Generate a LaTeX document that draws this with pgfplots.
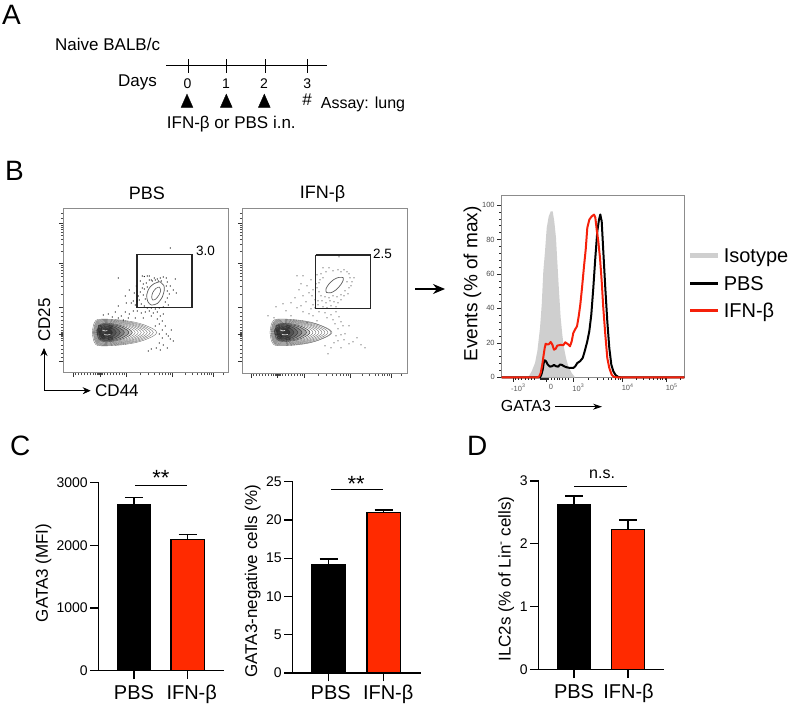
\documentclass[border=0pt]{standalone}
\usepackage{fontspec}
\setmainfont{Liberation Sans}
\usepackage{pgfplots}
\pgfplotsset{compat=1.18}
\usetikzlibrary{arrows.meta}
\newcommand\fs[1]{\fontsize{#1}{#1}\selectfont}
\definecolor{barred}{HTML}{FF2A00}
\definecolor{histred}{HTML}{F5200A}
\definecolor{isogray}{HTML}{CFCFCF}
\definecolor{framegray}{HTML}{8C8C8C}
\newcommand\ct[1]{\addplot[smooth,tension=.6,draw=black!60,line width=.35pt] coordinates {#1};}
\newcommand\cf[1]{\addplot[smooth,tension=.6,fill=black,fill opacity=.2,draw=black!80,line width=.4pt] coordinates {#1};}
\newcommand\blobinner{%
\ct{(30,124.5)(32,115.3)(38,111.7)(60,113)(78,117.1)(90,124.5)(78,131.9)(60,136)(38,137.3)(32,133.7)(30,124.5)}
\ct{(30.5,124.5)(32.5,115.6)(38.5,112.2)(58.8,113.4)(75.7,117.4)(87,124.5)(75.7,131.6)(58.8,135.6)(38.5,136.8)(32.5,133.4)(30.5,124.5)}
\ct{(31,124.5)(33,116)(39,112.7)(57.5,113.9)(73.4,117.7)(84,124.5)(73.4,131.3)(57.5,135.1)(39,136.3)(33,133)(31,124.5)}
\ct{(31.5,124.5)(33.5,116.4)(39.5,113.2)(56.3,114.3)(71.1,117.9)(81,124.5)(71.1,131.1)(56.3,134.7)(39.5,135.8)(33.5,132.6)(31.5,124.5)}
\ct{(32,124.5)(34,116.7)(40,113.7)(55,114.8)(68.8,118.2)(78,124.5)(68.8,130.8)(55,134.2)(40,135.3)(34,132.3)(32,124.5)}
\ct{(32.5,124.5)(34.5,117.1)(40.5,114.2)(53.8,115.2)(66.5,118.5)(75,124.5)(66.5,130.5)(53.8,133.8)(40.5,134.8)(34.5,131.9)(32.5,124.5)}
\ct{(33,124.5)(35,117.4)(41,114.7)(52.5,115.7)(64.2,118.8)(72,124.5)(64.2,130.2)(52.5,133.3)(41,134.3)(35,131.6)(33,124.5)}
\cf{(33.5,124.5)(35.5,117.8)(41.5,115.2)(51.3,116.1)(61.9,119.1)(69,124.5)(61.9,129.9)(51.3,132.9)(41.5,133.8)(35.5,131.2)(33.5,124.5)}
\cf{(34,124.5)(36,118.2)(42,115.7)(49.8,116.6)(59.2,119.4)(65.5,124.5)(59.2,129.6)(49.8,132.4)(42,133.3)(36,130.8)(34,124.5)}
\cf{(35,124.5)(37,118.6)(42,116.3)(48,117.1)(55.8,119.7)(61,124.5)(55.8,129.3)(48,131.9)(42,132.7)(37,130.4)(35,124.5)}
\cf{(36,124.5)(38,119.1)(42,117)(46.5,117.7)(52.8,120.1)(57,124.5)(52.8,128.9)(46.5,131.3)(42,132)(38,129.9)(36,124.5)}
\cf{(37,124.5)(38.5,119.8)(42,118)(45,118.6)(49.8,120.7)(53,124.5)(49.8,128.3)(45,130.4)(42,131)(38.5,129.2)(37,124.5)}
\cf{(38,124.5)(39.5,120.9)(42,119.5)(43.5,120)(46.8,121.6)(49,124.5)(46.8,127.4)(43.5,129)(42,129.5)(39.5,128.1)(38,124.5)}
\cf{(35,117.5)(37.5,117)(38.5,120)(38,124)(36,124.5)(35,121)(35,117.5)}
\cf{(33.5,122)(36,120)(37,126)(34.5,127)(33.5,122)}
\cf{(42,121)(47,122)(49,125)(45,128)(42,126)(42,121)}
\cf{(36,126)(40,126)(41,130)(37,131)(36,126)}
\cf{(46,117.5)(49,118)(48,121)(45.5,120)(46,117.5)}
\cf{(45,129)(49,129)(48.5,132)(45,131.5)(45,129)}
\addplot[white,line width=.7pt,opacity=.8] coordinates {(39,122)(42,123)(44,122.5)};
\addplot[white,line width=.7pt,opacity=.8] coordinates {(41,126.5)(44,127)(47,126.5)};
}
\pgfplotsset{
 flow/.style={scale only axis,clip=false,y dir=reverse,
  axis line style={framegray,line width=.9pt},
  tick align=outside,xtick pos=lower,ytick pos=left,
  xticklabels={},yticklabels={},
  xtick={10,36.7,63.4,109.4,150},
  minor xtick={12,15,18,21,24,27,30,32,34,35,36,37,38,39,41,44,47,50,53,56,59,61,77.2,85.3,91,95.5,99.1,102.1,104.8,107.1,121.6,128.7,133.8,137.7,141,143.7,146,148,160},
  ytick={15.3,55.3,99.3,126,153.7},
  minor ytick={5,10,17.1,19.2,21.5,24.2,27.4,31.3,36.3,43.3,57.1,59.4,62,65,68.5,72.8,78.3,86,104,108,112,116,119,122,124,125,127,128,130,132,137,141,145,149},
  major tick length=4.5pt,minor tick length=2.5pt,
  every tick/.style={black!80,line width=.6pt},
  every minor tick/.style={black!70,line width=.5pt},
 },
 dots/.style={only marks,mark=*,mark size=.3pt,mark options={draw=none,fill=black!50}},
 gate/.style={black!85,line width=1.1pt},
 bars/.style={scale only axis,clip=false,axis lines*=left,ybar,bar shift=0pt,bar width=33.5pt,
  axis line style={line width=1.1pt},
  every tick/.style={black,line width=1.1pt},
  tick align=outside,major tick length=8.5pt,
  xtick={0,1},
  /pgf/number format/assume math mode=true,
  /pgf/number format/1000 sep={},
  yticklabel style={font=\fs{14},xshift=1pt},
  xticklabel style={font=\fs{20},text height=15pt,text depth=4pt,yshift=-2pt},
  ylabel style={font=\fs{17},anchor=base},
  error bars/y dir=plus,error bars/y explicit,
 },
 blackbar/.style={fill=black,draw=black,line width=1.3pt,error bars/error bar style={line width=1.2pt,black},error bars/error mark options={rotate=90,mark size=9pt,line width=1.2pt,black}},
 redbar/.style={fill=barred,draw=black,line width=1.3pt,error bars/error bar style={line width=1.2pt,black},error bars/error mark options={rotate=90,mark size=9pt,line width=1.2pt,black}},
 brack/.style={ybar=0pt,sharp plot,black,line width=1pt,forget plot},
}
\begin{document}
\begin{tikzpicture}
\path[use as bounding box] (0,0) rectangle (795pt,709pt);
% canvas axis in reference pixels: panel letters, timeline, arrows
\begin{axis}[at={(0pt,0pt)},anchor=south west,scale only axis,width=795pt,height=709pt,
  xmin=0,xmax=795,ymin=0,ymax=709,y dir=reverse,hide axis,clip=false]
\node[anchor=base west,inner sep=0,font=\fs{28}] at (axis cs:2,25) {A};
\node[anchor=base west,inner sep=0,font=\fs{28}] at (axis cs:5,181) {B};
\node[anchor=base west,inner sep=0,font=\fs{28}] at (axis cs:10,455.5) {C};
\node[anchor=base west,inner sep=0,font=\fs{28}] at (axis cs:467,455.5) {D};
\node[anchor=base west,inner sep=0,font=\fs{17}] at (axis cs:55,50.7) {Naive BALB/c};
\node[anchor=base west,inner sep=0,font=\fs{17}] at (axis cs:118,86.7) {Days};
\node[anchor=base west,inner sep=0,font=\fs{17}] at (axis cs:166.7,128.3) {IFN-β or PBS i.n.};
\node[anchor=base west,inner sep=0,font=\fs{16}] at (axis cs:320.7,108.3) {Assay: lung};
\node[anchor=base,inner sep=0,font=\fs{17}] at (axis cs:307,105.3) {\#};
\node[anchor=base,inner sep=0,font=\fs{14}] at (axis cs:187.5,88.3) {0};
\node[anchor=base,inner sep=0,font=\fs{14}] at (axis cs:226,88.3) {1};
\node[anchor=base,inner sep=0,font=\fs{14}] at (axis cs:264,88.3) {2};
\node[anchor=base,inner sep=0,font=\fs{14}] at (axis cs:307.3,88.3) {3};
\addplot[black,line width=1pt] coordinates {(166,66)(327.3,66)};
\addplot[black,line width=1pt] coordinates {(188.3,59.3)(188.3,72.7)};
\addplot[black,line width=1pt] coordinates {(226.7,59.3)(226.7,72.7)};
\addplot[black,line width=1pt] coordinates {(265.7,59.3)(265.7,72.7)};
\addplot[black,line width=1pt] coordinates {(307,59.3)(307,72.7)};
\addplot[only marks,mark=triangle*,mark size=6.8pt,mark options={fill=black,draw=none,yscale=1.3}] coordinates {(187,103)(226.3,103)(264.3,103)};
% arrows of panel B
\addplot[black,line width=.8pt,-{Stealth[length=8pt,width=7pt]}] coordinates {(44,390.7)(44,348)};
\addplot[black,line width=.8pt,-{Stealth[length=8pt,width=7pt]}] coordinates {(44,390.7)(90.7,390.7)};
\addplot[black,line width=1.1pt,-{Stealth[length=12pt,width=10pt]}] coordinates {(415,289)(445,289)};
\addplot[black,line width=.8pt,-{Stealth[length=9pt,width=6pt]}] coordinates {(555,406.7)(602,406.7)};
\end{axis}
% PBS flow plot
\begin{axis}[flow,at={(63.3pt,336.3pt)},anchor=south west,width=165.4pt,height=164.7pt,
  xmin=0,xmax=165.4,ymin=0,ymax=164.7,
  title={PBS},title style={font=\fs{18},at={(axis description cs:0.506,1.0486)},anchor=base,inner sep=0,yshift=-6pt},
  xlabel={CD44},xlabel style={font=\fs{17},at={(axis description cs:.1917,-.1415)},anchor=base west,inner sep=0},
  ylabel={CD25},ylabel style={font=\fs{17},at={(axis description cs:-.0804,.32)},anchor=base,inner sep=0}]
\ct{(29,124.5)(31,114.9)(37,111.2)(61.3,112.5)(80.6,116.8)(93.5,124.5)(80.6,132.2)(61.3,136.5)(37,137.8)(31,134.1)(29,124.5)}
\blobinner
\addplot[dots] coordinates {(77,73)(79,68)(81,68.5)(84,68)(86,68)(88,72)(91,70)(94,71)(97,70)(100,69)(103,70)(104,74)(112,71)(107,78)(110,82)(113,85)(106,86)(104,90)(102,94)(105,97)(100,99)(96,100)(92,101)(88,100)(84,100)(81,98)(78,96)(76,92)(75,88)(77,84)(79,80)(80,76)(83,75)(86,72)(89,73)(92,72)(95,73)(98,73)(103,78)(104,83)(82,91)(80,87)(81,81)(84,79)(74,93)(72,97)(70,93)(71,85)(73,78)(66,82)(62,88)(68,95)(107,40)(55,70)(63,95)(62,104)(66,106)(70,103)(74,103)(78,105)(82,104)(86,103)(90,105)(94,104)(97,108)(100,106)(52,104)(55,98)(58,108)(65,110)(72,110)(80,110)(88,108)(94,111)(99,113)(102,118)(96,116)(99,122)(103,126)(99,130)(96,135)(100,137)(105,128)(108,122)(93,140)(88,141)(85,143)(107,131)(110,133)(97,142)(104,140)(49,109)(45,106)(60,112)(40,107)(55,110)(92,118)(96,126)};
\addplot[smooth,black!65,line width=.7pt] coordinates {(96.7,73.7)(100.5,77.5)(101,82)(99,89)(94,95.5)(88,97)(84.5,93.5)(83.4,87)(86,80)(91,75.5)(96.7,73.7)};
\addplot[smooth,black!65,line width=.6pt] coordinates {(96,79)(97.4,82)(96,86.5)(92.5,91)(89.5,92)(88.4,89)(89.5,84.5)(92.5,80.5)(96,79)};
\addplot[gate] coordinates {(73.7,46.3)(128.7,46.3)(128.7,99.3)(73.7,99.3)(73.7,46.3)};
\node[anchor=base west,inner sep=0,font=\fs{13.5}] at (axis cs:132.7,48) {3.0};
\end{axis}
% IFN flow plot
\begin{axis}[flow,at={(242.3pt,335.7pt)},anchor=south west,width=165pt,height=164.6pt,
  xmin=1.3,xmax=166.3,ymin=.8,ymax=165.4,
  title={IFN-β},title style={font=\fs{18},at={(axis description cs:.487,1.0644)},anchor=base,inner sep=0,yshift=-6pt}]
\ct{(29,124.5)(31,114.9)(37,111.2)(60,112.5)(78,116.8)(91,124.5)(78,132.2)(60,136.5)(37,137.8)(31,134.1)(29,124.5)}
\blobinner
\addplot[dots] coordinates {(98,49)(82,60)(88,60)(85,64)(92,63)(97,62)(100,64)(103,62)(106,64)(108,66)(109,70)(111,74)(110,78)(113,70)(106,74)(108,80)(104,83)(107,86)(103,88)(100,87)(96,89)(92,88)(88,90)(84,89)(80,88)(78,84)(76,80)(75,76)(79,72)(82,70)(80,66)(76,67)(78,75)(72,82)(71,88)(74,92)(77,93)(81,93)(85,95)(89,93)(93,94)(97,95)(100,92)(95,99)(90,98)(86,100)(82,99)(77,97)(72,97)(74,100)(70,72)(62,68)(56,68)(60,76)(66,78)(68,85)(62,88)(58,82)(65,94)(70,101)(60,98)(54,90)(50,95)(56,100)(42,96)(45,103)(50,108)(62,104)(68,106)(72,108)(78,104)(84,105)(90,107)(95,104)(86,110)(92,112)(98,109)(100,114)(94,116)(102,118)(97,121)(104,126)(108,118)(100,127)(95,128)(97,133)(93,135)(90,140)(84,138)(87,146)(103,132)(108,136)(112,134)(116,130)(100,140)(120,137)(33,110)(35,99)(27,108)(66,115)(76,113)(124,140)};
\addplot[smooth,black!65,line width=.7pt] coordinates {(102,69.6)(102.3,72)(100,76.5)(95,82)(90,84.8)(85.5,84.5)(85,81)(88,76)(93,71.5)(98,69.5)(102,69.6)};
\addplot[gate] coordinates {(74.7,47.1)(129.7,47.1)(129.7,100.4)(74.7,100.4)(74.7,47.1)};
\node[anchor=base west,inner sep=0,font=\fs{13.5}] at (axis cs:132,51.1) {2.5};
\end{axis}
% histogram
\begin{axis}[scale only axis,clip=false,at={(501.7pt,331.7pt)},anchor=south west,width=182.6pt,height=181.6pt,
  xmin=501.7,xmax=684.3,ymin=0,ymax=105.4,
  axis line style={framegray,line width=.9pt},
  tick align=outside,xtick pos=lower,ytick pos=left,
  xtick={513.3,546,573.3,622.7,666.7},
  xticklabels={-10\textsuperscript{3},0,10\textsuperscript{3},10\textsuperscript{4},10\textsuperscript{5}},
  minor xtick={515,518,521,525,528,531,534,540,541,542,543,544,545,547,548,551,554,557,559.5,562,565,568,588.2,596.9,603,607.8,611.7,615,617.9,620.4,635.9,643.7,649.2,653.5,657,660,662.6,664.9,680},
  ytick={0,20,40,60,80,100},
  minor ytick={4,8,12,16,24,28,32,36,44,48,52,56,64,68,72,76,84,88,92,96},
  major tick length=4.5pt,minor tick length=2.5pt,
  every tick/.style={black!85,line width=.6pt},
  every minor tick/.style={black!85,line width=.5pt},
  /pgf/number format/assume math mode=true,
  xticklabel style={font=\fs{7.5},black!65,xshift=5pt,yshift=1pt},
  yticklabel style={font=\fs{7.5},black!70,xshift=1pt},
  ylabel={Events (\% of max)},ylabel style={font=\fs{19},at={(axis description cs:-.1336,.514)},anchor=base,inner sep=0},
  xlabel={GATA3},xlabel style={font=\fs{16},at={(axis description cs:-.0055,-.189)},anchor=base west,inner sep=0},
  legend cell align=left,
  legend image code/.code={\draw[#1] (0pt,0pt)--(27.6pt,0pt);},
  legend style={draw=none,fill=none,font=\fs{20},at={(axis cs:687.5,75)},anchor=north west,inner xsep=0pt,inner ysep=0pt,row sep=13pt,nodes={inner sep=0pt,text height=14.5pt,text depth=0pt}},
  ]
\addplot[fill=isogray,draw=none,forget plot] coordinates {(528.3,0)(531.7,3.5)(535,8.3)(537.3,15)(540,28.6)(541.7,42)(543.3,61.5)(545,73)(546.7,86.7)(548.7,93.4)(550.7,96.3)(552.7,96.3)(554.3,90.5)(556,80.9)(557.3,67.3)(559,50)(560.7,34.4)(562.3,24.8)(564,17)(566,11.2)(568.3,6.4)(571.7,2.5)(575,0)} \closedcycle;
\addplot[black,line width=2pt,line join=round,forget plot] coordinates {(501.7,0)(540,0)(541.3,1.5)(542.7,4.4)(543.7,8.3)(544.7,9.9)(546,9.3)(547.7,7.4)(550,6.2)(552,6.4)(554,7.2)(556,6.4)(558.3,6.2)(560,7.4)(562,7.2)(564,6.4)(566.7,5.8)(570,5.4)(573.3,5.4)(575.3,6.4)(577.3,8.3)(580,9.3)(582.7,11.2)(584.7,15.1)(587.3,20.9)(589.3,26.7)(591.3,36.4)(593.3,51.8)(595.3,69.2)(597.3,84.7)(599,91.5)(600.3,94.5)(601.7,90.5)(603.3,73.1)(605.3,51.8)(607.3,32.5)(609.3,17)(611.3,7.4)(613.3,3.5)(615.7,1.2)(618.3,.2)(620.7,0)(684.3,0)};
\addplot[histred,line width=2pt,line join=round,forget plot] coordinates {(501.7,0)(538.3,0)(539.3,.6)(540.7,2.5)(542.3,7.4)(543.7,13.2)(544.7,17)(545.7,19.5)(547.7,19)(549,19.3)(550.7,20.5)(552.3,19)(554,16)(555.7,16.6)(557.3,18.4)(560.7,18.8)(563.3,18.6)(565.3,20.3)(567.7,19.3)(570,18)(571.7,20.9)(573.3,25.7)(575,27.7)(577,29.6)(578.7,35.4)(580.3,42.2)(582,51.8)(584,64.4)(585.7,74.1)(587.3,86.7)(589.3,91.5)(591.7,93.4)(594,94.4)(595.3,92.8)(596.7,85.7)(598.3,78.9)(600,69.2)(601.7,55.7)(603.3,40.2)(605.3,24.8)(607.3,11.2)(609.3,5.4)(611.7,1.5)(614,.2)(616.7,0)(684.3,0)};
\addlegendimage{isogray,line width=5pt}
\addlegendentry{\hspace{3.5pt}Isotype}
\addlegendimage{black,line width=3pt}
\addlegendentry{\hspace{3.5pt}PBS}
\addlegendimage{histred,line width=3pt}
\addlegendentry{\hspace{3.5pt}IFN-β}
\end{axis}
% panel C, left
\begin{axis}[bars,at={(98.7pt,38.3pt)},anchor=south west,width=125.3pt,height=188pt,
  xmin=-.657,xmax=1.676,ymin=0,ymax=3000,ytick={0,1000,2000,3000},
  xticklabels={PBS,\hspace{8pt}IFN-β},
  ylabel={GATA3 (MFI)},ylabel style={at={(axis description cs:-.405,.52)}}]
\addplot[blackbar] coordinates {(0,2650) +- (0,120)};
\addplot[redbar] coordinates {(1,2096) +- (0,80)};
\addplot[brack] coordinates {(.02,2963)(.98,2963)};
\node[anchor=base,inner sep=0,font=\fs{22}] at (axis cs:.5,2950) {**};
\end{axis}
% panel C, right
\begin{axis}[bars,at={(292.7pt,36pt)},anchor=south west,width=128.3pt,height=191.3pt,
  xmin=-.6545,xmax=1.678,ymin=0,ymax=25,ytick={0,5,10,15,20,25},
  xticklabels={\hspace{4pt}PBS,\hspace{9pt}IFN-β},
  xticklabel style={yshift=2.3pt},
  ylabel={GATA3-negative cells (\%)},ylabel style={at={(axis description cs:-.278,.48)}}]
\addplot[blackbar] coordinates {(0,14.2) +- (0,.7)};
\addplot[redbar] coordinates {(1,21) +- (0,.3)};
\addplot[brack] coordinates {(.05,24.04)(.99,24.04)};
\node[anchor=base,inner sep=0,font=\fs{22}] at (axis cs:.5,23.68) {**};
\end{axis}
% panel D
\begin{axis}[bars,at={(538.7pt,39.3pt)},anchor=south west,width=125.3pt,height=188.7pt,
  xmin=-.654,xmax=1.667,ymin=0,ymax=3,ytick={0,1,2,3},
  xticklabels={PBS,\hspace{1pt}IFN-β},
  ylabel={ILC2s (\% of Lin\textsuperscript{-} cells)},ylabel style={at={(axis description cs:-.224,.48)}}]
\addplot[blackbar] coordinates {(0,2.62) +- (0,.14)};
\addplot[redbar] coordinates {(1,2.23) +- (0,.15)};
\addplot[brack] coordinates {(0,2.91)(.98,2.91)};
\node[anchor=base,inner sep=0,font=\fs{16}] at (axis cs:.52,3.04) {n.s.};
\end{axis}
\end{tikzpicture}
\end{document}
